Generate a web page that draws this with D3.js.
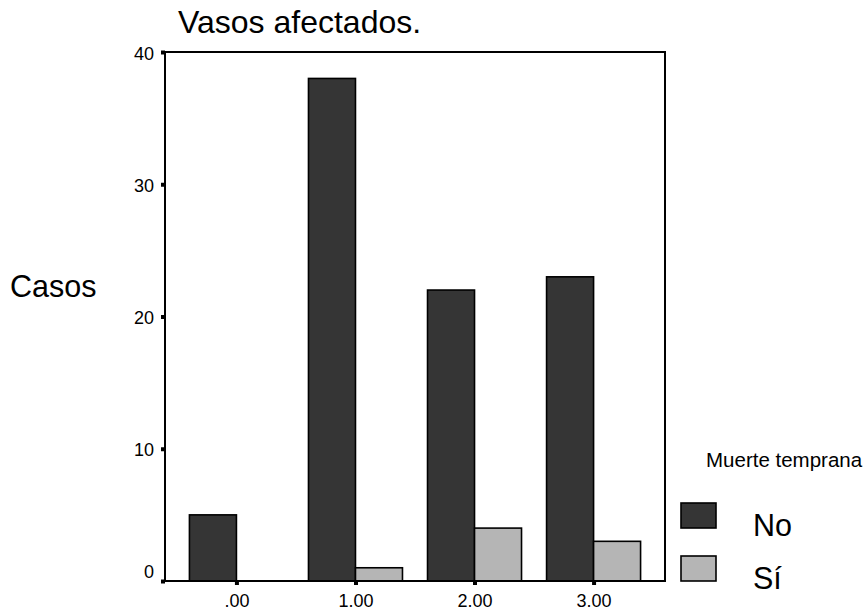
<!DOCTYPE html>
<html>
<head>
<meta charset="utf-8">
<script src="https://cdn.jsdelivr.net/npm/d3@7"></script>
<style>
  html, body { margin: 0; padding: 0; background: #fff; }
  svg { display: block; font-family: Arial, "Liberation Sans", sans-serif; }
</style>
</head>
<body>
<svg id="chart" width="865" height="614"></svg>
<script>
// Number of affected vessels vs. early death
const categories = [".00", "1.00", "2.00", "3.00"];
const seriesNames = ["No", "Sí"];
const valuesNo = [5, 38, 22, 23];
const valuesSi = [0, 1, 4, 3];
const yTicks = [0, 10, 20, 30, 40];
const colors = ["#353535", "#b5b5b5"];

const svg = d3.select("#chart");
const plotLeft = 165, plotRight = 665, plotTop = 52, plotBottom = 581;

const x = d3.scalePoint().domain(categories).range([plotLeft, plotRight]).padding(0.6);
const y = d3.scaleLinear().domain([0, 40]).range([plotBottom, plotTop]);
const barW = 47;

const series = [valuesNo, valuesSi];

// Bars: "No" to the left of each category tick, "Sí" to the right
series.forEach((vals, si) => {
  svg.append("g").selectAll("rect")
    .data(vals.map((v, i) => ({ cat: categories[i], v })).filter(d => d.v > 0))
    .join("rect")
    .attr("x", d => x(d.cat) - barW + si * barW)
    .attr("y", d => y(d.v))
    .attr("width", barW)
    .attr("height", d => y(0) - y(d.v))
    .attr("fill", colors[si])
    .attr("stroke", "#000")
    .attr("stroke-width", 1.6);
});

// Plot frame
svg.append("rect")
  .attr("x", plotLeft).attr("y", plotTop)
  .attr("width", plotRight - plotLeft).attr("height", plotBottom - plotTop)
  .attr("fill", "none").attr("stroke", "#000").attr("stroke-width", 2);

// Y axis
const yAxis = svg.append("g")
  .attr("transform", `translate(${plotLeft},0)`)
  .call(d3.axisLeft(y).tickValues(yTicks).tickFormat(d3.format("d")).tickSize(4).tickPadding(7));
yAxis.select(".domain").remove();
yAxis.selectAll(".tick line").attr("stroke", "#000").attr("stroke-width", 4);
yAxis.selectAll(".tick text")
  .attr("font-size", 18).attr("fill", "#000")
  .attr("font-family", "Arial, 'Liberation Sans', sans-serif")
  .attr("dy", d => d === 0 ? "-0.2em" : "0.4em");

// X axis
const xAxis = svg.append("g")
  .attr("transform", `translate(0,${plotBottom})`)
  .call(d3.axisBottom(x).tickSize(4).tickPadding(9));
xAxis.select(".domain").remove();
xAxis.selectAll(".tick line").attr("stroke", "#000").attr("stroke-width", 4);
xAxis.selectAll(".tick text")
  .attr("font-size", 18).attr("fill", "#000")
  .attr("font-family", "Arial, 'Liberation Sans', sans-serif");

// Title and axis label
svg.append("text").attr("x", 178).attr("y", 33)
  .attr("font-size", 32).attr("fill", "#000").text("Vasos afectados.");
svg.append("text").attr("x", 10).attr("y", 297)
  .attr("font-size", 30.5).attr("fill", "#000").text("Casos");

// Legend
svg.append("text").attr("x", 706).attr("y", 467)
  .attr("font-size", 20.5).attr("fill", "#000").text("Muerte temprana");
const legY = [503, 556];
seriesNames.forEach((name, i) => {
  svg.append("rect")
    .attr("x", 681).attr("y", legY[i])
    .attr("width", 35).attr("height", 25)
    .attr("fill", colors[i]).attr("stroke", "#000").attr("stroke-width", 1.6);
  svg.append("text")
    .attr("x", 753).attr("y", legY[i] + 33)
    .attr("font-size", 30.5).attr("fill", "#000").text(name);
});
</script>
</body>
</html>
